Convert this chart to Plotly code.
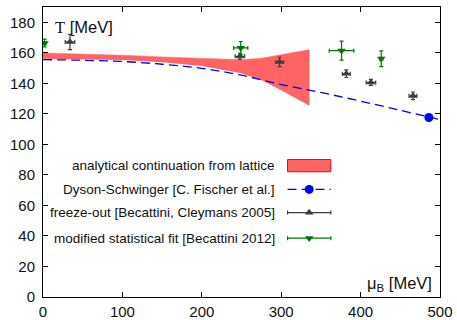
import plotly.graph_objects as go

# ---------------- data ----------------
band_mu = [0, 50, 100, 150, 200, 250, 275, 300, 320, 335]
band_top = [159.9, 159.3, 158.4, 157.3, 156.2, 155.5, 156.4, 158.6, 160.5, 162.0]
band_bot = [156.1, 155.9, 155.3, 153.8, 151.4, 146.6, 142.2, 135.5, 130.0, 125.5]

dse_mu = [0, 50, 100, 150, 200, 250, 300, 350, 400, 450, 500]
dse_T = [155.5, 155.1, 154.3, 152.5, 149.8, 145.3, 139.2, 134.0, 128.3, 122.3, 116.2]
cep_mu = [486]
cep_T = [117.6]

fo_mu = [34, 248, 298, 382, 413, 466]
fo_T = [167.1, 157.7, 154.0, 146.3, 140.6, 131.8]
fo_mu_err = [6, 6, 5, 5, 6, 5]
fo_T_err = [5.0, 2.0, 3.0, 2.5, 2.0, 2.5]

msf_mu = [2, 249, 376, 426]
msf_T = [166.4, 163.2, 161.4, 156.1]
msf_mu_err = [2, 9, 15.5, 2]
msf_T_err = [2.5, 4.2, 6.2, 5.1]

legend_labels = [
    "analytical continuation from lattice",
    "Dyson-Schwinger [C. Fischer et al.]",
    "freeze-out [Becattini, Cleymans 2005]",
    "modified statistical fit [Becattini 2012]",
]

x_ticks = [0, 100, 200, 300, 400, 500]
y_ticks = list(range(0, 181, 20))

RED = "rgb(255,100,100)"
BLUE = "#0000ff"
GRAY = "#3c3c3c"
GREEN = "#007800"
FONT = "Liberation Sans, Arial, sans-serif"

fig = go.Figure()

# band
fig.add_trace(go.Scatter(x=band_mu, y=band_bot, mode="lines", line=dict(width=0, color=RED),
                         showlegend=False, hoverinfo="skip"))
fig.add_trace(go.Scatter(x=band_mu, y=band_top, mode="lines", line=dict(width=0.5, color=RED),
                         fill="tonexty", fillcolor=RED, showlegend=False, hoverinfo="skip"))
fig.add_trace(go.Scatter(x=[band_mu[-1], band_mu[-1]], y=[band_bot[-1], band_top[-1]], mode="lines",
                         line=dict(width=1, color=RED), showlegend=False, hoverinfo="skip"))

# DSE
fig.add_trace(go.Scatter(x=dse_mu, y=dse_T, mode="lines", line=dict(color=BLUE, width=1.3, dash="9px,5px"),
                         line_shape="spline", showlegend=False))
fig.add_trace(go.Scatter(x=cep_mu, y=cep_T, mode="markers", marker=dict(color=BLUE, size=9, symbol="circle"),
                         showlegend=False))

# freeze-out
fig.add_trace(go.Scatter(x=fo_mu, y=fo_T, mode="markers",
                         marker=dict(color=GRAY, size=7.5, symbol="triangle-up"),
                         error_x=dict(type="data", array=fo_mu_err, color=GRAY, thickness=1.2, width=2),
                         error_y=dict(type="data", array=fo_T_err, color=GRAY, thickness=1.2, width=2),
                         showlegend=False))
# modified statistical fit
fig.add_trace(go.Scatter(x=msf_mu, y=msf_T, mode="markers",
                         marker=dict(color=GREEN, size=7.5, symbol="triangle-down"),
                         error_x=dict(type="data", array=msf_mu_err, color=GREEN, thickness=1.2, width=2),
                         error_y=dict(type="data", array=msf_T_err, color=GREEN, thickness=1.2, width=2),
                         showlegend=False))

# ---------------- custom legend (text left of sample) ----------------
row_y = [0.453, 0.371, 0.291, 0.203]
text_x = 0.589
s0, s1 = 0.616, 0.725
sc = (s0 + s1) / 2
for lab, ry in zip(legend_labels, row_y):
    fig.add_annotation(x=text_x, y=ry, xref="paper", yref="paper", text=lab, showarrow=False,
                       xanchor="right", yanchor="middle", font=dict(family=FONT, size=13.5, color="#111"))
fig.add_shape(type="rect", xref="paper", yref="paper", x0=s0, x1=s1, y0=row_y[0] - 0.021, y1=row_y[0] + 0.021,
              fillcolor=RED, line=dict(color="#ff0000", width=1))
fig.add_trace(go.Scatter(x=[s0, s1], y=[row_y[1], row_y[1]], xaxis="x2", yaxis="y2", mode="lines",
                         line=dict(color=BLUE, width=1.3, dash="9px,5px"), showlegend=False, hoverinfo="skip"))
fig.add_trace(go.Scatter(x=[sc], y=[row_y[1]], xaxis="x2", yaxis="y2", mode="markers",
                         marker=dict(color=BLUE, size=9), showlegend=False, hoverinfo="skip"))
half = (s1 - s0) / 2
fig.add_trace(go.Scatter(x=[sc], y=[row_y[2]], xaxis="x2", yaxis="y2", mode="markers",
                         marker=dict(color=GRAY, size=7.5, symbol="triangle-up"),
                         error_x=dict(type="data", array=[half], color=GRAY, thickness=1.2, width=2),
                         showlegend=False, hoverinfo="skip"))
fig.add_trace(go.Scatter(x=[sc], y=[row_y[3]], xaxis="x2", yaxis="y2", mode="markers",
                         marker=dict(color=GREEN, size=7.5, symbol="triangle-down"),
                         error_x=dict(type="data", array=[half], color=GREEN, thickness=1.2, width=2),
                         showlegend=False, hoverinfo="skip"))

# axis titles as annotations
fig.add_annotation(x=0.025, y=0.93, xref="paper", yref="paper", showarrow=False, xanchor="left", yanchor="middle",
                   text='<span style="font-family:Liberation Serif, Times New Roman, serif">T</span> [MeV]',
                   font=dict(family=FONT, size=16.5, color="#111"))
fig.add_annotation(x=0.985, y=0.045, xref="paper", yref="paper", showarrow=False, xanchor="right", yanchor="middle",
                   text="μ<sub>B</sub> [MeV]", font=dict(family=FONT, size=16.5, color="#111"))

axis_common = dict(showgrid=False, zeroline=False, showline=True, linecolor="black", linewidth=1,
                   mirror="allticks", ticks="inside", ticklen=5, tickcolor="black", automargin=False,
                   tickfont=dict(family=FONT, size=15, color="#111"))
fig.update_layout(
    width=457, height=320,
    margin=dict(l=43, r=17, t=7, b=23),
    paper_bgcolor="white", plot_bgcolor="white",
    xaxis=dict(range=[0, 500], tickvals=x_ticks, ticklabelstandoff=1, **axis_common),
    yaxis=dict(range=[0, 190], tickvals=y_ticks, ticklabelstandoff=4, **axis_common),
    xaxis2=dict(range=[0, 1], overlaying="x", visible=False),
    yaxis2=dict(range=[0, 1], overlaying="y", visible=False),
    showlegend=False,
)
fig.write_html("out.html")
